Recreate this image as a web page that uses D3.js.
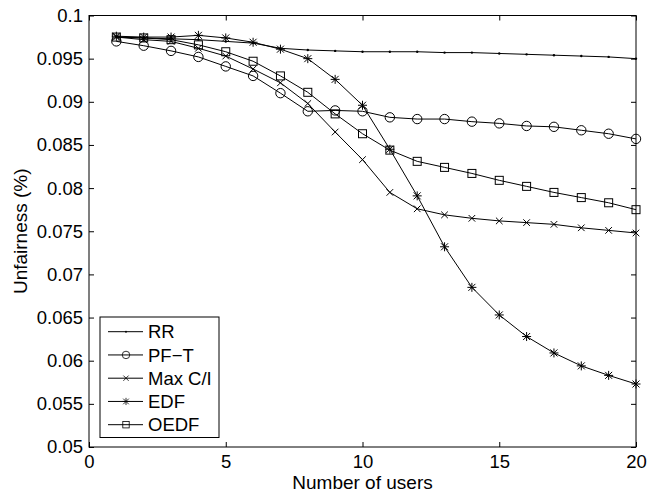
<!DOCTYPE html>
<html>
<head>
<meta charset="utf-8">
<script src="https://cdn.jsdelivr.net/npm/d3@7"></script>
<style>
  body { margin: 0; background: #fff; }
  text { font-family: "Liberation Sans", Arial, sans-serif; fill: #000; }
</style>
</head>
<body>
<div id="chart"></div>
<script>
// number of users on the x axis
const users = d3.range(1, 21);

// unfairness values per scheduler
const rr = [0.0975, 0.0974, 0.0973, 0.0972, 0.0970, 0.0968, 0.0962, 0.0960, 0.0959, 0.0958,
  0.0958, 0.0958, 0.0957, 0.0957, 0.0956, 0.0955, 0.0954, 0.0953, 0.0952, 0.0950];
const pft = [0.0970, 0.0965, 0.0959, 0.0952, 0.0941, 0.0930, 0.0910, 0.0889, 0.0890, 0.0889,
  0.0882, 0.0880, 0.0880, 0.0877, 0.0875, 0.0872, 0.0871, 0.0867, 0.0863, 0.0857];
const maxci = [0.0975, 0.0972, 0.0970, 0.0962, 0.0953, 0.0938, 0.0922, 0.0898, 0.0865, 0.0833,
  0.0795, 0.0776, 0.0769, 0.0765, 0.0762, 0.0760, 0.0758, 0.0754, 0.0751, 0.0748];
const edf = [0.0976, 0.0975, 0.0975, 0.0977, 0.0974, 0.0969, 0.0961, 0.0950, 0.0926, 0.0896,
  0.0845, 0.0791, 0.0732, 0.0685, 0.0653, 0.0628, 0.0609, 0.0594, 0.0583, 0.0573];
const oedf = [0.0975, 0.0974, 0.0972, 0.0966, 0.0958, 0.0947, 0.0930, 0.0911, 0.0886, 0.0863,
  0.0844, 0.0831, 0.0824, 0.0817, 0.0809, 0.0802, 0.0795, 0.0789, 0.0783, 0.0775];

const seriesNames = ["RR", "PF\u2212T", "Max C/I", "EDF", "OEDF"];
const seriesValues = [rr, pft, maxci, edf, oedf];
const markers = ["dot", "circle", "cross", "star", "square"];

const xTicks = [0, 5, 10, 15, 20];
const yTicks = [0.05, 0.055, 0.06, 0.065, 0.07, 0.075, 0.08, 0.085, 0.09, 0.095, 0.1];

const width = 662, height = 495;
const margins = { top: 15.5, right: 26, bottom: 48, left: 89 };
const chartWidth = width - margins.left - margins.right;
const chartHeight = height - margins.top - margins.bottom;

const svg = d3.select("#chart").append("svg")
  .attr("width", width)
  .attr("height", height);

const mainG = svg.append("g")
  .attr("transform", `translate(${margins.left}, ${margins.top})`);

// SCALES
const xScale = d3.scaleLinear().domain([0, 20]).range([0, chartWidth]);
const yScale = d3.scaleLinear().domain([0.05, 0.1]).range([chartHeight, 0]);

// AXIS (matlab style: ticks inside, mirrored on top and right)
const fmt = (d) => String(+d.toFixed(3));
const tickLen = 5;

mainG.append("g")
  .attr("transform", `translate(0, ${chartHeight})`)
  .call(d3.axisBottom(xScale).tickValues(xTicks).tickSizeInner(-tickLen).tickSizeOuter(0).tickPadding(8).tickFormat(fmt))
  .call((g) => g.select(".domain").remove());
mainG.append("g")
  .call(d3.axisTop(xScale).tickValues(xTicks).tickSizeInner(-tickLen).tickSizeOuter(0).tickFormat(""))
  .call((g) => g.select(".domain").remove());
mainG.append("g")
  .call(d3.axisLeft(yScale).tickValues(yTicks).tickSizeInner(-tickLen).tickSizeOuter(0).tickPadding(6).tickFormat(fmt))
  .call((g) => g.select(".domain").remove());
mainG.append("g")
  .attr("transform", `translate(${chartWidth}, 0)`)
  .call(d3.axisRight(yScale).tickValues(yTicks).tickSizeInner(-tickLen).tickSizeOuter(0).tickFormat(""))
  .call((g) => g.select(".domain").remove());

mainG.selectAll(".tick line").attr("stroke", "#000");
mainG.selectAll(".tick text").style("font-size", "18.5px").attr("fill", "#000");

// plot frame
mainG.append("rect")
  .attr("width", chartWidth)
  .attr("height", chartHeight)
  .attr("fill", "none")
  .attr("stroke", "#000")
  .attr("stroke-width", 1);

// axis titles
svg.append("text")
  .attr("x", margins.left + chartWidth / 2)
  .attr("y", 488.5)
  .attr("text-anchor", "middle")
  .style("font-size", "19px")
  .text("Number of users");
svg.append("text")
  .attr("transform", `translate(27, ${margins.top + chartHeight / 2}) rotate(-90)`)
  .attr("text-anchor", "middle")
  .style("font-size", "19px")
  .text("Unfairness (%)");

// draws a marker of the given kind centred at 0,0
function drawMarker(g, kind) {
  if (kind === "dot") {
    g.append("circle").attr("r", 1.2).attr("fill", "#000");
  } else if (kind === "circle") {
    g.append("circle").attr("r", 4.7).attr("fill", "none").attr("stroke", "#000");
  } else if (kind === "cross") {
    g.append("path").attr("d", "M-3.3,-3.3L3.3,3.3M-3.3,3.3L3.3,-3.3").attr("stroke", "#000");
  } else if (kind === "star") {
    g.append("path")
      .attr("d", "M-3.5,-3.5L3.5,3.5M-3.5,3.5L3.5,-3.5M0,-4.5L0,4.5M-4.5,0L4.5,0")
      .attr("stroke", "#000");
  } else if (kind === "square") {
    g.append("rect").attr("x", -4).attr("y", -4).attr("width", 8).attr("height", 8)
      .attr("fill", "none").attr("stroke", "#000");
  }
}

const line = d3.line()
  .x((d, i) => xScale(users[i]))
  .y((d) => yScale(d));

const plotG = svg.append("g")
  .attr("transform", `translate(${margins.left}, ${margins.top})`);

seriesValues.forEach((values, s) => {
  plotG.append("path")
    .datum(values)
    .attr("d", line)
    .attr("fill", "none")
    .attr("stroke", "#000")
    .attr("stroke-width", 1);
  values.forEach((v, i) => {
    const m = plotG.append("g")
      .attr("transform", `translate(${xScale(users[i])}, ${yScale(v)})`);
    drawMarker(m, markers[s]);
  });
});

// LEGEND
const legend = svg.append("g").attr("transform", "translate(100, 317)");
legend.append("rect")
  .attr("width", 119)
  .attr("height", 120.5)
  .attr("fill", "#fff")
  .attr("stroke", "#000");

const legendRow = d3.scaleLinear().domain([0, 4]).range([14.7, 107.7]);

seriesNames.forEach((name, s) => {
  const row = legend.append("g").attr("transform", `translate(0, ${legendRow(s)})`);
  row.append("line")
    .attr("x1", 8).attr("x2", 43)
    .attr("stroke", "#000");
  const m = row.append("g");
  drawMarker(m, markers[s]);
  m.attr("transform", "translate(26, 0) scale(0.8)");
  row.append("text")
    .attr("x", 48)
    .attr("y", 6.6)
    .style("font-size", "18.5px")
    .text(name);
});
</script>
</body>
</html>
